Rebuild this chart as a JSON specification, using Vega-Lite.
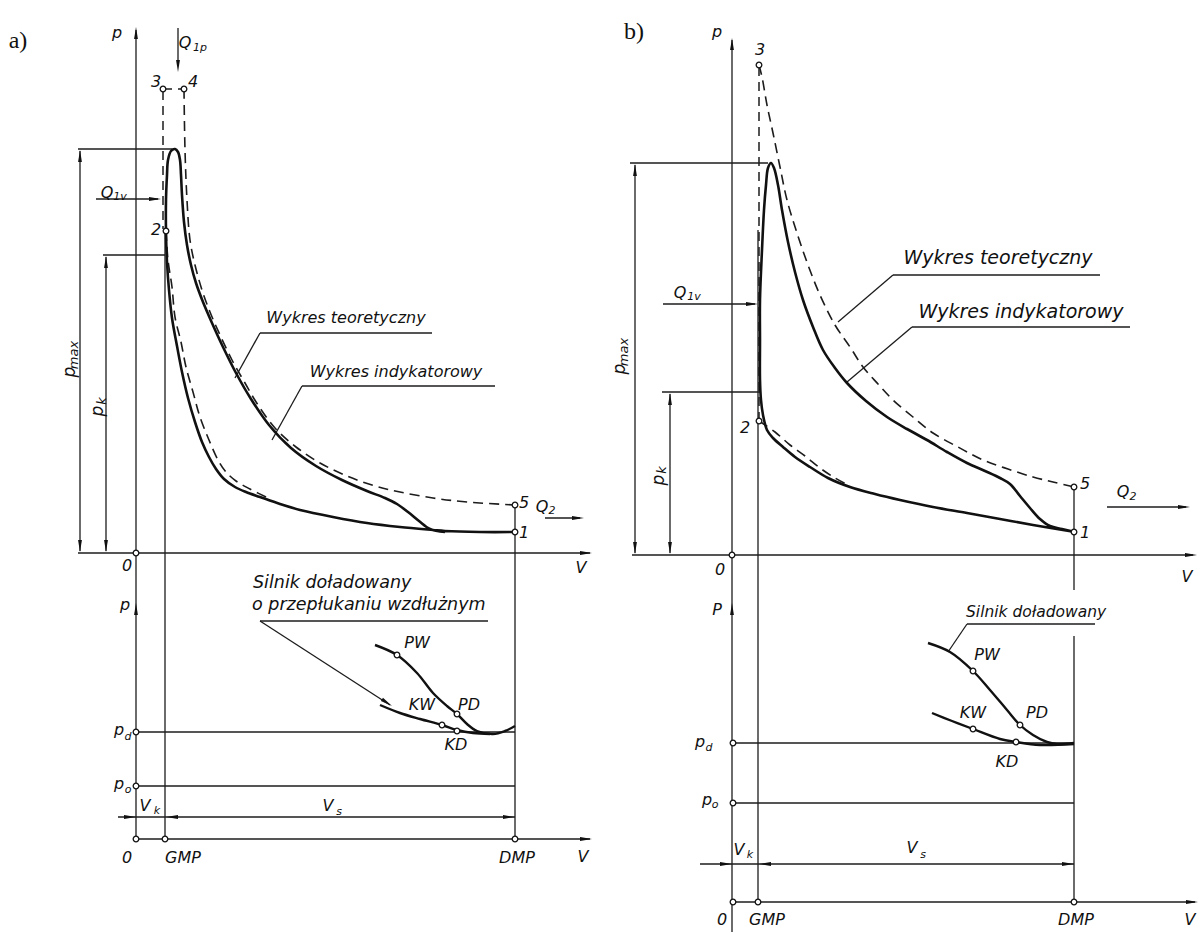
{
"$schema": "https://vega.github.io/schema/vega-lite/v6.json",
"width": 1199, "height": 935,
"autosize": {"type": "fit", "contains": "padding"},
"padding": 0,
"background": "white",
"config": {"view": {"stroke": null}},
"datasets": {
"segs": [
{"x":136,"y":30,"x2":136,"y2":840},
{"x":78,"y":553,"x2":590,"y2":553},
{"x":78,"y":149,"x2":172,"y2":149},
{"x":80,"y":151,"x2":80,"y2":551},
{"x":103,"y":255,"x2":165,"y2":255},
{"x":106,"y":257,"x2":106,"y2":551},
{"x":96,"y":199,"x2":158,"y2":199},
{"x":178,"y":28,"x2":178,"y2":66},
{"x":165,"y":232,"x2":165,"y2":840},
{"x":515,"y":507,"x2":515,"y2":840},
{"x":545,"y":518,"x2":580,"y2":518},
{"x":136,"y":732,"x2":515,"y2":732},
{"x":136,"y":786,"x2":515,"y2":786},
{"x":118,"y":817,"x2":515,"y2":817},
{"x":136,"y":839,"x2":590,"y2":839},
{"x":260,"y":333,"x2":432,"y2":333},
{"x":302,"y":386,"x2":495,"y2":386},
{"x":260,"y":621,"x2":488,"y2":621},
{"x":260,"y":333,"x2":235,"y2":378},
{"x":302,"y":386,"x2":272,"y2":440},
{"x":260,"y":621,"x2":390,"y2":705},
{"x":732,"y":40,"x2":732,"y2":932},
{"x":632,"y":555,"x2":1193,"y2":555},
{"x":630,"y":163,"x2":768,"y2":163},
{"x":635,"y":165,"x2":635,"y2":553},
{"x":662,"y":392,"x2":760,"y2":392},
{"x":670,"y":394,"x2":670,"y2":553},
{"x":663,"y":304,"x2":755,"y2":304},
{"x":758,"y":230,"x2":758,"y2":902},
{"x":1074,"y":489,"x2":1074,"y2":590},
{"x":1074,"y":636,"x2":1074,"y2":902},
{"x":1107,"y":507,"x2":1186,"y2":507},
{"x":733,"y":743,"x2":1074,"y2":743},
{"x":733,"y":803,"x2":1074,"y2":803},
{"x":700,"y":864,"x2":1074,"y2":864},
{"x":733,"y":902,"x2":1195,"y2":902},
{"x":893,"y":275,"x2":1100,"y2":275},
{"x":912,"y":327,"x2":1130,"y2":327},
{"x":967,"y":624,"x2":1095,"y2":624},
{"x":893,"y":275,"x2":838,"y2":322},
{"x":912,"y":327,"x2":847,"y2":382},
{"x":967,"y":624,"x2":948,"y2":652}
],
"dsegs": [
{"x":163,"y":89,"x2":184,"y2":89},
{"x":163,"y":91,"x2":163,"y2":229},
{"x":759,"y":67,"x2":759,"y2":419}
],
"arrows": [
{"x":136,"y":27,"a":270},{"x":592,"y":553,"a":0},{"x":80,"y":150,"a":270},{"x":80,"y":552,"a":90},
{"x":106,"y":256,"a":270},{"x":106,"y":552,"a":90},{"x":161,"y":199,"a":0},{"x":178,"y":72,"a":90},
{"x":584,"y":518,"a":0},{"x":136,"y":603,"a":270},{"x":136,"y":817,"a":0},{"x":166,"y":817,"a":180},
{"x":515,"y":817,"a":0},{"x":592,"y":839,"a":0},{"x":392,"y":706,"a":33},
{"x":732,"y":38,"a":270},{"x":1197,"y":555,"a":0},{"x":635,"y":164,"a":270},{"x":635,"y":554,"a":90},
{"x":670,"y":393,"a":270},{"x":670,"y":554,"a":90},{"x":758,"y":304,"a":0},{"x":1190,"y":507,"a":0},
{"x":732,"y":603,"a":270},{"x":732,"y":864,"a":0},{"x":759,"y":864,"a":180},{"x":1074,"y":864,"a":0},
{"x":1198,"y":902,"a":0}
],
"pts": [
{"x":163,"y":89},{"x":184,"y":89},{"x":166,"y":231},{"x":515,"y":505},{"x":515,"y":532},{"x":136,"y":553},
{"x":397,"y":655},{"x":457,"y":714},{"x":442,"y":725},{"x":457,"y":731},{"x":136,"y":732},{"x":136,"y":786},
{"x":136,"y":839},{"x":165,"y":839},{"x":515,"y":839},
{"x":759,"y":65},{"x":759,"y":421},{"x":1074,"y":487},{"x":1074,"y":532},{"x":732,"y":555},
{"x":973,"y":671},{"x":1020,"y":725},{"x":973,"y":729},{"x":1016,"y":742},{"x":733,"y":743},{"x":733,"y":803},
{"x":733,"y":902},{"x":758,"y":902},{"x":1074,"y":902}
],
"curves": [
{"c":"a1","k":"ind","i":1,"x":515,"y":532},{"c":"a1","k":"ind","i":2,"x":480,"y":532},{"c":"a1","k":"ind","i":3,"x":445,"y":531},
{"c":"a1","k":"ind","i":4,"x":433,"y":530},{"c":"a1","k":"ind","i":5,"x":400,"y":527},{"c":"a1","k":"ind","i":6,"x":367,"y":523},
{"c":"a1","k":"ind","i":7,"x":333,"y":517},{"c":"a1","k":"ind","i":8,"x":300,"y":510},{"c":"a1","k":"ind","i":9,"x":280,"y":504},
{"c":"a1","k":"ind","i":10,"x":260,"y":497},{"c":"a1","k":"ind","i":11,"x":246,"y":492},{"c":"a1","k":"ind","i":12,"x":235,"y":487},
{"c":"a1","k":"ind","i":13,"x":224,"y":479},{"c":"a1","k":"ind","i":14,"x":216,"y":469},{"c":"a1","k":"ind","i":15,"x":209,"y":457},
{"c":"a1","k":"ind","i":16,"x":202,"y":442},{"c":"a1","k":"ind","i":17,"x":195,"y":422},{"c":"a1","k":"ind","i":18,"x":188,"y":398},
{"c":"a1","k":"ind","i":19,"x":182,"y":372},{"c":"a1","k":"ind","i":20,"x":177,"y":346},{"c":"a1","k":"ind","i":21,"x":172,"y":318},
{"c":"a1","k":"ind","i":22,"x":169,"y":290},{"c":"a1","k":"ind","i":23,"x":167,"y":262},{"c":"a1","k":"ind","i":24,"x":166,"y":232},
{"c":"a1","k":"ind","i":25,"x":166,"y":200},{"c":"a1","k":"ind","i":26,"x":167,"y":175},{"c":"a1","k":"ind","i":27,"x":168,"y":160},
{"c":"a1","k":"ind","i":28,"x":171,"y":151},{"c":"a1","k":"ind","i":29,"x":175,"y":149},{"c":"a1","k":"ind","i":30,"x":178,"y":152},
{"c":"a1","k":"ind","i":31,"x":180,"y":160},{"c":"a1","k":"ind","i":32,"x":181,"y":175},{"c":"a1","k":"ind","i":33,"x":182,"y":195},
{"c":"a1","k":"ind","i":34,"x":184,"y":222},{"c":"a1","k":"ind","i":35,"x":187,"y":245},{"c":"a1","k":"ind","i":36,"x":191,"y":265},
{"c":"a1","k":"ind","i":37,"x":196,"y":283},{"c":"a1","k":"ind","i":38,"x":203,"y":302},{"c":"a1","k":"ind","i":39,"x":212,"y":323},
{"c":"a1","k":"ind","i":40,"x":223,"y":347},{"c":"a1","k":"ind","i":41,"x":236,"y":373},{"c":"a1","k":"ind","i":42,"x":251,"y":399},
{"c":"a1","k":"ind","i":43,"x":269,"y":425},{"c":"a1","k":"ind","i":44,"x":291,"y":448},{"c":"a1","k":"ind","i":45,"x":316,"y":466},
{"c":"a1","k":"ind","i":46,"x":342,"y":480},{"c":"a1","k":"ind","i":47,"x":367,"y":491},{"c":"a1","k":"ind","i":48,"x":385,"y":498},
{"c":"a1","k":"ind","i":49,"x":397,"y":504},{"c":"a1","k":"ind","i":50,"x":408,"y":512},{"c":"a1","k":"ind","i":51,"x":419,"y":521},
{"c":"a1","k":"ind","i":52,"x":430,"y":529},{"c":"a1","k":"ind","i":53,"x":445,"y":532},

{"c":"b1","k":"ind","i":1,"x":1075,"y":532},{"c":"b1","k":"ind","i":2,"x":1033,"y":525},{"c":"b1","k":"ind","i":3,"x":1000,"y":519},
{"c":"b1","k":"ind","i":4,"x":967,"y":513},{"c":"b1","k":"ind","i":5,"x":933,"y":507},{"c":"b1","k":"ind","i":6,"x":900,"y":500},
{"c":"b1","k":"ind","i":7,"x":875,"y":494},{"c":"b1","k":"ind","i":8,"x":850,"y":487},{"c":"b1","k":"ind","i":9,"x":828,"y":478},
{"c":"b1","k":"ind","i":10,"x":810,"y":467},{"c":"b1","k":"ind","i":11,"x":795,"y":457},{"c":"b1","k":"ind","i":12,"x":783,"y":447},
{"c":"b1","k":"ind","i":13,"x":773,"y":438},{"c":"b1","k":"ind","i":14,"x":767,"y":430},{"c":"b1","k":"ind","i":15,"x":763,"y":415},
{"c":"b1","k":"ind","i":16,"x":761,"y":400},{"c":"b1","k":"ind","i":17,"x":760,"y":380},{"c":"b1","k":"ind","i":18,"x":760,"y":340},
{"c":"b1","k":"ind","i":19,"x":760,"y":300},{"c":"b1","k":"ind","i":20,"x":762,"y":250},{"c":"b1","k":"ind","i":21,"x":764,"y":210},
{"c":"b1","k":"ind","i":22,"x":766,"y":185},{"c":"b1","k":"ind","i":23,"x":768,"y":168},{"c":"b1","k":"ind","i":24,"x":771,"y":163},
{"c":"b1","k":"ind","i":25,"x":774,"y":168},{"c":"b1","k":"ind","i":26,"x":778,"y":185},{"c":"b1","k":"ind","i":27,"x":782,"y":210},
{"c":"b1","k":"ind","i":28,"x":788,"y":242},{"c":"b1","k":"ind","i":29,"x":795,"y":272},{"c":"b1","k":"ind","i":30,"x":803,"y":300},
{"c":"b1","k":"ind","i":31,"x":813,"y":327},{"c":"b1","k":"ind","i":32,"x":823,"y":350},{"c":"b1","k":"ind","i":33,"x":835,"y":368},
{"c":"b1","k":"ind","i":34,"x":847,"y":383},{"c":"b1","k":"ind","i":35,"x":866,"y":401},{"c":"b1","k":"ind","i":36,"x":887,"y":417},
{"c":"b1","k":"ind","i":37,"x":907,"y":429},{"c":"b1","k":"ind","i":38,"x":927,"y":440},{"c":"b1","k":"ind","i":39,"x":947,"y":452},
{"c":"b1","k":"ind","i":40,"x":967,"y":463},{"c":"b1","k":"ind","i":41,"x":985,"y":471},{"c":"b1","k":"ind","i":42,"x":1000,"y":478},
{"c":"b1","k":"ind","i":43,"x":1010,"y":484},{"c":"b1","k":"ind","i":44,"x":1020,"y":496},{"c":"b1","k":"ind","i":45,"x":1030,"y":508},
{"c":"b1","k":"ind","i":46,"x":1040,"y":519},{"c":"b1","k":"ind","i":47,"x":1050,"y":526},{"c":"b1","k":"ind","i":48,"x":1062,"y":529},
{"c":"b1","k":"ind","i":49,"x":1075,"y":532},

{"c":"a2","k":"theo","i":1,"x":184,"y":89},{"c":"a2","k":"theo","i":2,"x":185,"y":150},{"c":"a2","k":"theo","i":3,"x":187,"y":200},
{"c":"a2","k":"theo","i":4,"x":190,"y":240},{"c":"a2","k":"theo","i":5,"x":195,"y":265},{"c":"a2","k":"theo","i":6,"x":202,"y":290},
{"c":"a2","k":"theo","i":7,"x":210,"y":312},{"c":"a2","k":"theo","i":8,"x":220,"y":335},{"c":"a2","k":"theo","i":9,"x":232,"y":360},
{"c":"a2","k":"theo","i":10,"x":245,"y":383},{"c":"a2","k":"theo","i":11,"x":258,"y":405},{"c":"a2","k":"theo","i":12,"x":275,"y":428},
{"c":"a2","k":"theo","i":13,"x":296,"y":447},{"c":"a2","k":"theo","i":14,"x":320,"y":463},{"c":"a2","k":"theo","i":15,"x":347,"y":476},
{"c":"a2","k":"theo","i":16,"x":375,"y":486},{"c":"a2","k":"theo","i":17,"x":400,"y":492},{"c":"a2","k":"theo","i":18,"x":433,"y":498},
{"c":"a2","k":"theo","i":19,"x":467,"y":502},{"c":"a2","k":"theo","i":20,"x":515,"y":505},

{"c":"a3","k":"theo","i":1,"x":166,"y":231},{"c":"a3","k":"theo","i":2,"x":168,"y":260},{"c":"a3","k":"theo","i":3,"x":172,"y":287},
{"c":"a3","k":"theo","i":4,"x":175,"y":317},{"c":"a3","k":"theo","i":5,"x":181,"y":342},{"c":"a3","k":"theo","i":6,"x":186,"y":367},
{"c":"a3","k":"theo","i":7,"x":193,"y":392},{"c":"a3","k":"theo","i":8,"x":200,"y":417},{"c":"a3","k":"theo","i":9,"x":209,"y":440},
{"c":"a3","k":"theo","i":10,"x":218,"y":460},{"c":"a3","k":"theo","i":11,"x":226,"y":472},{"c":"a3","k":"theo","i":12,"x":236,"y":481},
{"c":"a3","k":"theo","i":13,"x":250,"y":489},{"c":"a3","k":"theo","i":14,"x":270,"y":499},

{"c":"b2","k":"theo","i":1,"x":759,"y":65},{"c":"b2","k":"theo","i":2,"x":762,"y":77},{"c":"b2","k":"theo","i":3,"x":767,"y":105},
{"c":"b2","k":"theo","i":4,"x":773,"y":133},{"c":"b2","k":"theo","i":5,"x":780,"y":167},{"c":"b2","k":"theo","i":6,"x":787,"y":200},
{"c":"b2","k":"theo","i":7,"x":797,"y":233},{"c":"b2","k":"theo","i":8,"x":808,"y":265},{"c":"b2","k":"theo","i":9,"x":820,"y":295},
{"c":"b2","k":"theo","i":10,"x":835,"y":325},{"c":"b2","k":"theo","i":11,"x":850,"y":347},{"c":"b2","k":"theo","i":12,"x":863,"y":367},
{"c":"b2","k":"theo","i":13,"x":878,"y":384},{"c":"b2","k":"theo","i":14,"x":893,"y":400},{"c":"b2","k":"theo","i":15,"x":913,"y":417},
{"c":"b2","k":"theo","i":16,"x":933,"y":433},{"c":"b2","k":"theo","i":17,"x":958,"y":447},{"c":"b2","k":"theo","i":18,"x":983,"y":460},
{"c":"b2","k":"theo","i":19,"x":1008,"y":469},{"c":"b2","k":"theo","i":20,"x":1033,"y":477},{"c":"b2","k":"theo","i":21,"x":1053,"y":482},
{"c":"b2","k":"theo","i":22,"x":1074,"y":487},

{"c":"b3","k":"theo","i":1,"x":759,"y":421},{"c":"b3","k":"theo","i":2,"x":775,"y":432},{"c":"b3","k":"theo","i":3,"x":790,"y":445},
{"c":"b3","k":"theo","i":4,"x":805,"y":456},{"c":"b3","k":"theo","i":5,"x":820,"y":468},{"c":"b3","k":"theo","i":6,"x":835,"y":478},
{"c":"b3","k":"theo","i":7,"x":850,"y":486},

{"c":"a4","k":"gas","i":1,"x":375,"y":645},{"c":"a4","k":"gas","i":2,"x":397,"y":655},{"c":"a4","k":"gas","i":3,"x":417,"y":673},
{"c":"a4","k":"gas","i":4,"x":433,"y":693},{"c":"a4","k":"gas","i":5,"x":447,"y":706},{"c":"a4","k":"gas","i":6,"x":457,"y":714},
{"c":"a4","k":"gas","i":7,"x":467,"y":724},{"c":"a4","k":"gas","i":8,"x":477,"y":731},{"c":"a4","k":"gas","i":9,"x":493,"y":734},
{"c":"a4","k":"gas","i":10,"x":505,"y":731},{"c":"a4","k":"gas","i":11,"x":515,"y":726},
{"c":"a5","k":"gas","i":1,"x":380,"y":705},{"c":"a5","k":"gas","i":2,"x":400,"y":713},{"c":"a5","k":"gas","i":3,"x":420,"y":719},
{"c":"a5","k":"gas","i":4,"x":442,"y":725},{"c":"a5","k":"gas","i":5,"x":457,"y":730},{"c":"a5","k":"gas","i":6,"x":473,"y":733},
{"c":"a5","k":"gas","i":7,"x":490,"y":734},
{"c":"b4","k":"gas","i":1,"x":928,"y":643},{"c":"b4","k":"gas","i":2,"x":950,"y":652},{"c":"b4","k":"gas","i":3,"x":973,"y":671},
{"c":"b4","k":"gas","i":4,"x":990,"y":690},{"c":"b4","k":"gas","i":5,"x":1007,"y":710},{"c":"b4","k":"gas","i":6,"x":1020,"y":725},
{"c":"b4","k":"gas","i":7,"x":1033,"y":735},{"c":"b4","k":"gas","i":8,"x":1047,"y":742},{"c":"b4","k":"gas","i":9,"x":1057,"y":744},
{"c":"b4","k":"gas","i":10,"x":1074,"y":743},
{"c":"b5","k":"gas","i":1,"x":932,"y":713},{"c":"b5","k":"gas","i":2,"x":952,"y":721},{"c":"b5","k":"gas","i":3,"x":973,"y":729},
{"c":"b5","k":"gas","i":4,"x":1000,"y":739},{"c":"b5","k":"gas","i":5,"x":1016,"y":742},{"c":"b5","k":"gas","i":6,"x":1040,"y":745},
{"c":"b5","k":"gas","i":7,"x":1074,"y":744}
],
"labels": [
{"t":"p","x":117,"y":33},{"t":"Q","x":185,"y":43},{"t":"3","x":156,"y":82},{"t":"4","x":193,"y":82},
{"t":"Q","x":107,"y":193},{"t":"2","x":156,"y":230},{"t":"5","x":524,"y":503},{"t":"1","x":524,"y":533},
{"t":"Q","x":542,"y":507},{"t":"0","x":127,"y":566},{"t":"V","x":581,"y":568},
{"t":"Wykres teoretyczny","x":346,"y":318},{"t":"Wykres indykatorowy","x":396,"y":372},
{"t":"p","x":125,"y":605},{"t":"p","x":119,"y":730},{"t":"p","x":119,"y":784},{"t":"V","x":145,"y":806},{"t":"V","x":328,"y":806},
{"t":"PW","x":417,"y":643},{"t":"KW","x":422,"y":705},{"t":"PD","x":469,"y":705},{"t":"KD","x":456,"y":745},
{"t":"0","x":127,"y":858},{"t":"GMP","x":183,"y":858},{"t":"DMP","x":517,"y":858},{"t":"V","x":583,"y":857},
{"t":"p","x":717,"y":32},{"t":"3","x":760,"y":50},{"t":"Q","x":680,"y":293},{"t":"2","x":745,"y":428},
{"t":"5","x":1085,"y":484},{"t":"1","x":1085,"y":533},{"t":"Q","x":1123,"y":492},{"t":"0","x":720,"y":570},{"t":"V","x":1187,"y":577},
{"t":"P","x":717,"y":610},{"t":"p","x":700,"y":742},{"t":"p","x":707,"y":800},{"t":"V","x":739,"y":850},{"t":"V","x":912,"y":848},
{"t":"PW","x":987,"y":655},{"t":"KW","x":973,"y":713},{"t":"PD","x":1037,"y":713},{"t":"KD","x":1007,"y":762},
{"t":"0","x":722,"y":920},{"t":"GMP","x":767,"y":920},{"t":"DMP","x":1076,"y":920},{"t":"V","x":1190,"y":920}
],
"bigLabels": [
{"t":"Wykres teoretyczny","x":998,"y":258},{"t":"Wykres indykatorowy","x":1021,"y":312}
],
"subs": [
{"t":"1p","x":200,"y":48},{"t":"1v","x":120,"y":197},{"t":"2","x":552,"y":511},{"t":"d","x":128,"y":737},
{"t":"o","x":128,"y":790},{"t":"k","x":157,"y":811},{"t":"s","x":339,"y":812},
{"t":"1v","x":694,"y":297},{"t":"2","x":1133,"y":497},{"t":"d","x":709,"y":748},{"t":"o","x":715,"y":805},
{"t":"k","x":750,"y":855},{"t":"s","x":923,"y":855}
],
"notesA": [
{"t":"Silnik doładowany","x":253,"y":583},{"t":"o przepłukaniu wzdłużnym","x":252,"y":605}
],
"notesB": [
{"t":"Silnik doładowany","x":966,"y":612}
],
"rotLabels": [
{"t":"p","x":70,"y":372},{"t":"p","x":98,"y":411},{"t":"p","x":620,"y":369},{"t":"p","x":659,"y":480}
],
"rotSubs": [
{"t":"max","x":74,"y":355},{"t":"k","x":102,"y":401},{"t":"max","x":624,"y":352},{"t":"k","x":662,"y":470}
],
"panels": [
{"t":"a)","x":18,"y":41},{"t":"b)","x":634,"y":32}
]
},
"encoding": {
"x": {"field": "x", "type": "quantitative", "scale": {"domain": [0, 1199], "nice": false, "zero": false}, "axis": null},
"y": {"field": "y", "type": "quantitative", "scale": {"domain": [0, 935], "reverse": true, "nice": false, "zero": false}, "axis": null}
},
"layer": [
{"data": {"name": "segs"}, "mark": {"type": "rule", "color": "#1c1c1c", "strokeWidth": 1.3},
 "encoding": {"x2": {"field": "x2"}, "y2": {"field": "y2"}}},
{"data": {"name": "dsegs"}, "mark": {"type": "rule", "color": "#1c1c1c", "strokeWidth": 1.5, "strokeDash": [9, 6]},
 "encoding": {"x2": {"field": "x2"}, "y2": {"field": "y2"}}},
{"data": {"name": "curves"}, "transform": [{"filter": "datum.k == 'theo'"}],
 "mark": {"type": "line", "color": "#1c1c1c", "strokeWidth": 1.6, "strokeDash": [10, 6], "interpolate": "catmull-rom"},
 "encoding": {"detail": {"field": "c"}, "order": {"field": "i", "type": "quantitative"}}},
{"data": {"name": "curves"}, "transform": [{"filter": "datum.k == 'ind'"}],
 "mark": {"type": "line", "color": "#111", "strokeWidth": 2.6, "interpolate": "catmull-rom"},
 "encoding": {"detail": {"field": "c"}, "order": {"field": "i", "type": "quantitative"}}},
{"data": {"name": "curves"}, "transform": [{"filter": "datum.k == 'gas'"}],
 "mark": {"type": "line", "color": "#111", "strokeWidth": 2.4, "interpolate": "catmull-rom"},
 "encoding": {"detail": {"field": "c"}, "order": {"field": "i", "type": "quantitative"}}},
{"data": {"name": "arrows"}, "mark": {"type": "point", "shape": "M0,0L-2,-0.32L-2,0.32Z", "filled": true, "color": "#111", "size": 144, "opacity": 1},
 "encoding": {"angle": {"field": "a", "type": "quantitative", "scale": null}}},
{"data": {"name": "pts"}, "mark": {"type": "point", "shape": "circle", "filled": true, "fill": "white", "stroke": "#111", "strokeWidth": 1.3, "size": 32, "opacity": 1}},
{"data": {"name": "labels"}, "mark": {"type": "text", "font": "DejaVu Sans", "fontStyle": "italic", "fontSize": 16, "align": "center", "baseline": "middle", "color": "#111"},
 "encoding": {"text": {"field": "t"}}},
{"data": {"name": "bigLabels"}, "mark": {"type": "text", "font": "DejaVu Sans", "fontStyle": "italic", "fontSize": 19, "align": "center", "baseline": "middle", "color": "#111"},
 "encoding": {"text": {"field": "t"}}},
{"data": {"name": "subs"}, "mark": {"type": "text", "font": "DejaVu Sans", "fontStyle": "italic", "fontSize": 11, "align": "center", "baseline": "middle", "color": "#111"},
 "encoding": {"text": {"field": "t"}}},
{"data": {"name": "notesA"}, "mark": {"type": "text", "font": "DejaVu Sans", "fontStyle": "italic", "fontSize": 17.5, "align": "left", "baseline": "middle", "color": "#111"},
 "encoding": {"text": {"field": "t"}}},
{"data": {"name": "notesB"}, "mark": {"type": "text", "font": "DejaVu Sans", "fontStyle": "italic", "fontSize": 15.5, "align": "left", "baseline": "middle", "color": "#111"},
 "encoding": {"text": {"field": "t"}}},
{"data": {"name": "rotLabels"}, "mark": {"type": "text", "font": "DejaVu Sans", "fontStyle": "italic", "fontSize": 17, "align": "center", "baseline": "middle", "angle": 270, "color": "#111"},
 "encoding": {"text": {"field": "t"}}},
{"data": {"name": "rotSubs"}, "mark": {"type": "text", "font": "DejaVu Sans", "fontStyle": "italic", "fontSize": 13, "align": "center", "baseline": "middle", "angle": 270, "color": "#111"},
 "encoding": {"text": {"field": "t"}}},
{"data": {"name": "panels"}, "mark": {"type": "text", "font": "Liberation Serif", "fontSize": 24, "align": "center", "baseline": "middle", "color": "#111"},
 "encoding": {"text": {"field": "t"}}}
]
}
